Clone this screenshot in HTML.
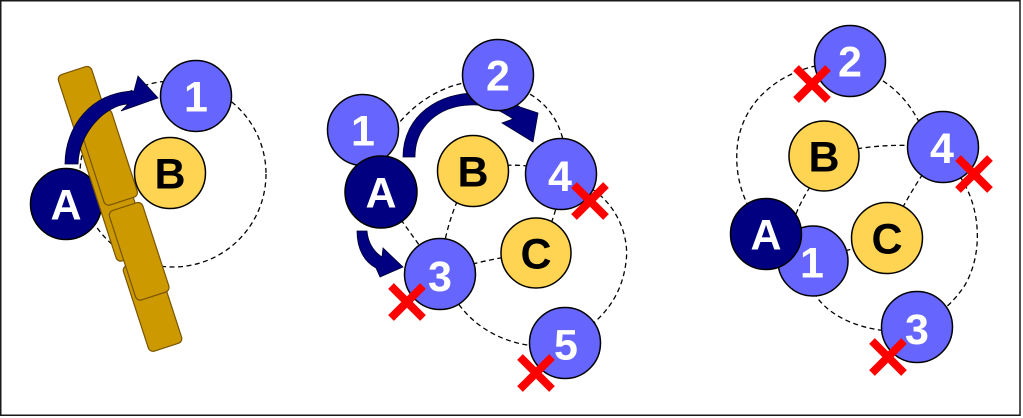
<!DOCTYPE html>
<html>
<head>
<meta charset="utf-8">
<style>
  html, body { margin: 0; padding: 0; background: #fff; }
  svg { display: block; }
  .d { fill: none; stroke: #000; stroke-width: 1.3; stroke-dasharray: 5 3.5; }
  .nb { fill: #6666FF; stroke: #000; stroke-width: 1.5; }
  .nn { fill: #000080; stroke: #000; stroke-width: 1.5; }
  .ny { fill: #FFD452; stroke: #000; stroke-width: 1.5; }
  .t { font-family: "Liberation Sans", Arial, sans-serif; font-weight: bold; font-size: 43px; text-anchor: middle; }
  .w { fill: #fff; }
  .k { fill: #000; }
  .x { stroke: #FF0000; stroke-width: 8; stroke-linecap: butt; }
  .ar { fill: #000080; stroke: #000030; stroke-width: 0.8; }
</style>
</head>
<body>
<svg width="1023" height="418" viewBox="0 0 1023 418" xmlns="http://www.w3.org/2000/svg">
  <rect x="0" y="0" width="1023" height="418" fill="#fff"/>
  <rect x="0.75" y="0.75" width="1019.25" height="414.5" fill="#fff" stroke="#1a1a1a" stroke-width="1.5"/>

  <!-- ================= PANEL 1 ================= -->
  <circle class="d" cx="173" cy="174" r="93"/>

  <circle class="nn" cx="66" cy="204" r="35.5"/>
  <text class="t w" x="66" y="219.4">A</text>

  <g fill="#CC9900" stroke="#7A5500" stroke-width="1.2">
    <rect x="0" y="0" width="35" height="196" rx="5" transform="translate(57,76) rotate(-18)"/>
    <rect x="0" y="0" width="35" height="90" rx="5" transform="translate(122,267) rotate(-18)"/>
    <rect x="0" y="0" width="35" height="92" rx="5" transform="translate(77,119) rotate(-18)"/>
    <rect x="0" y="0" width="35" height="94" rx="5" transform="translate(108,212) rotate(-18)"/>
  </g>

  <path class="ar" d="M65,164 C65,128 90,92 134,91 L138,76 L158,98 L121,111 L128,104 C106,105 79,132 78,164 Z"/>

  <circle class="ny" cx="170" cy="173" r="35.5"/>
  <text class="t k" x="170" y="188.4">B</text>

  <circle class="nb" cx="196" cy="96" r="35.5"/>
  <text class="t w" x="196" y="111.4">1</text>

  <!-- ================= PANEL 2 ================= -->
  <path class="d" d="M390,135 C420,90 470,72 510,85 C540,95 560,115 565,150"/>
  <path class="d" d="M585,185 C615,200 630,235 626,262 C622,295 605,315 585,330"/>
  <path class="d" d="M450,290 C465,320 495,342 535,346"/>
  <path class="d" d="M381,192 L440,274"/>
  <path class="d" d="M473,171 Q445,215 440,274"/>
  <path class="d" d="M440,274 Q485,258 536,253"/>
  <path class="d" d="M536,253 Q560,215 561,174"/>
  <path class="d" d="M473,171 Q517,158 561,174"/>

  <path class="ar" d="M403,157 C403,115 440,92 478,93 C495,94 510,100 520,107 L538,113 L533,142 L502,123 L513,119 C500,110 487,104 470,105 C440,106 415,125 415,157 Z"/>
  <path class="ar" d="M357,231 C357,250 365,262 376,268 L380,277 L403,267 L383,248 L382,257 C374,252 368,243 367,231 Z"/>

  <circle class="nb" cx="363" cy="130" r="35.5"/>
  <text class="t w" x="363" y="145.4">1</text>

  <circle class="nn" cx="381" cy="192" r="36"/>
  <text class="t w" x="381" y="207.4">A</text>

  <circle class="nb" cx="498" cy="75" r="35.5"/>
  <text class="t w" x="498" y="90.4">2</text>

  <circle class="ny" cx="473" cy="171" r="35.5"/>
  <text class="t k" x="473" y="186.4">B</text>

  <circle class="nb" cx="561" cy="174" r="35.5"/>
  <text class="t w" x="560" y="191">4</text>

  <circle class="ny" cx="536" cy="253" r="35"/>
  <text class="t k" x="536" y="268.4">C</text>

  <circle class="nb" cx="440" cy="274" r="35.5"/>
  <text class="t w" x="440" y="291">3</text>

  <circle class="nb" cx="565" cy="343" r="35.5"/>
  <text class="t w" x="566" y="359.5">5</text>

  <g class="x">
    <line x1="391" y1="286" x2="423" y2="318"/><line x1="391" y1="318" x2="423" y2="286"/>
    <line x1="574" y1="185" x2="606" y2="217"/><line x1="574" y1="217" x2="606" y2="185"/>
    <line x1="520" y1="357" x2="552" y2="389"/><line x1="520" y1="389" x2="552" y2="357"/>
  </g>

  <!-- ================= PANEL 3 ================= -->
  <path class="d" d="M850,62 C785,62 740,100 737,150 C735,180 745,205 760,225"/>
  <path class="d" d="M860,70 Q905,85 925,135"/>
  <path class="d" d="M824,156 Q880,140 943,148"/>
  <path class="d" d="M815,180 Q800,200 792,225"/>
  <path class="d" d="M943,147 Q915,180 887,238"/>
  <path class="d" d="M813,261 L887,238"/>
  <path class="d" d="M955,170 C980,200 985,250 965,285 C955,300 945,310 930,318"/>
  <path class="d" d="M810,285 C820,310 850,330 900,332"/>

  <circle class="nb" cx="850" cy="61" r="35.5"/>
  <text class="t w" x="850" y="76.4">2</text>

  <circle class="ny" cx="824" cy="156" r="35"/>
  <text class="t k" x="824" y="171.4">B</text>

  <circle class="nb" cx="943" cy="147" r="35.5"/>
  <text class="t w" x="942" y="163">4</text>

  <circle class="nb" cx="813" cy="261" r="35"/>
  <text class="t w" x="812" y="277.4">1</text>

  <circle class="nn" cx="766" cy="234" r="35.5"/>
  <text class="t w" x="766" y="249.4">A</text>

  <circle class="ny" cx="887" cy="238" r="35.5"/>
  <text class="t k" x="887" y="253.4">C</text>

  <circle class="nb" cx="917" cy="327" r="35.5"/>
  <text class="t w" x="917" y="344">3</text>

  <g class="x">
    <line x1="796" y1="68" x2="828" y2="100"/><line x1="796" y1="100" x2="828" y2="68"/>
    <line x1="958" y1="158" x2="990" y2="190"/><line x1="958" y1="190" x2="990" y2="158"/>
    <line x1="872" y1="341" x2="904" y2="373"/><line x1="872" y1="373" x2="904" y2="341"/>
  </g>
</svg>
</body>
</html>
